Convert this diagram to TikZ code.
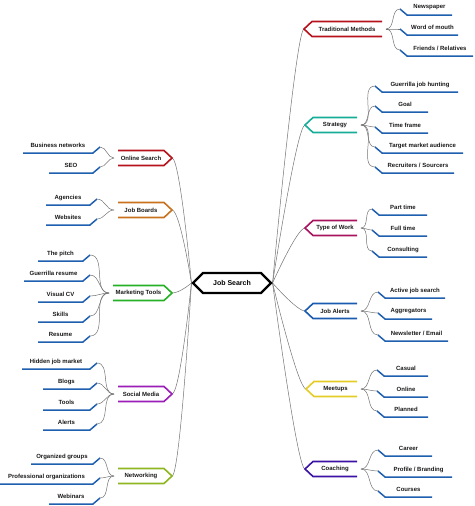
\documentclass[tikz,border=0pt]{standalone}
\usepackage{fontspec}
\setmainfont{Liberation Sans}
\usetikzlibrary{shapes.symbols,calc,backgrounds}
\definecolor{leafblue}{HTML}{1F5FAF}
\definecolor{cRed}{HTML}{B5121B}
\definecolor{cTeal}{HTML}{17AE99}
\definecolor{cCrim}{HTML}{A8135E}
\definecolor{cBlue}{HTML}{1A5BB0}
\definecolor{cYel}{HTML}{E5CB25}
\definecolor{cInd}{HTML}{3B12A5}
\definecolor{cOra}{HTML}{C8721E}
\definecolor{cGrn}{HTML}{25B025}
\definecolor{cPur}{HTML}{9A1DB8}
\definecolor{cLime}{HTML}{8DB620}
\tikzset{
  conn/.style={draw=black!55, line width=0.5pt},
  leafline/.style={draw=leafblue, line width=1.5pt},
  branchline/.style={line width=1.6pt},
  ltext/.style={font=\fontsize{6}{7}\selectfont\bfseries, text=black!90, inner sep=0pt},
  btext/.style={font=\fontsize{6}{7}\selectfont\bfseries, text=black!90, inner sep=0pt},
}
% right branch: name, xpoint, y, xend, colour, text
\newcommand\rbranch[6]{%
  \coordinate (#1-in) at (#2,#3);
  \coordinate (#1-out) at (#4+4,#3);
  \draw[branchline,draw=#5] (#4,#3-7.5) -- (#2+8,#3-7.5) -- (#1-in) -- (#2+8,#3+7.5) -- (#4,#3+7.5);
  \node[btext] (#1) at ({(#2+8+#4)/2},#3) {#6};
  \begin{scope}[on background layer]
    \draw[conn] (center.east) .. controls (center.east) and ($(#1-in)+(-8,0)$) .. (#1-in);
  \end{scope}}
% left branch: name, xpoint, y, xstart, colour, text
\newcommand\lbranch[6]{%
  \coordinate (#1-in) at (#2,#3);
  \coordinate (#1-out) at (#4-4,#3);
  \draw[branchline,draw=#5] (#4,#3-7.5) -- (#2-8,#3-7.5) -- (#1-in) -- (#2-8,#3+7.5) -- (#4,#3+7.5);
  \node[btext] (#1) at ({(#2-8+#4)/2},#3) {#6};
  \begin{scope}[on background layer]
    \draw[conn] (center.west) .. controls (center.west) and ($(#1-in)+(8,0)$) .. (#1-in);
  \end{scope}}
% right leaf: name, parent, xstart, yline, xend, text
\newcommand\rleaf[6]{%
  \coordinate (#1-in) at (#3,#4-6);
  \draw[leafline] (#1-in) -- (#3+7,#4) -- (#5,#4);
  \node[ltext] (#1) at ({(#3+7+#5)/2},#4-7.5) {#6};
  \draw[conn] (#2-out) to[out=0,in=180] (#1-in);}
% left leaf: name, parent, xstart, yline, xend, text
\newcommand\lleaf[6]{%
  \coordinate (#1-in) at (#5,#4-6);
  \draw[leafline] (#3,#4) -- (#5-7,#4) -- (#1-in);
  \node[ltext] (#1) at ({(#3+#5-7)/2},#4-7.5) {#6};
  \draw[conn] (#2-out) to[out=180,in=0] (#1-in);}
\begin{document}
\begin{tikzpicture}[x=1pt,y=-1pt]
\useasboundingbox (0,0) rectangle (474,506);
\node[signal, signal to=east and west, draw=black, fill=white, line width=2.2pt,
  minimum width=78pt, minimum height=20pt, inner sep=0pt,
  font=\fontsize{7}{8}\selectfont\bfseries] (center) at (232,283) {Job Search};

% right side
\rbranch{tm}{304}{29}{382}{cRed}{Traditional Methods}
\rleaf{np}{tm}{400}{15}{452}{Newspaper}
\rleaf{wm}{tm}{400}{35}{458}{Word of mouth}
\rleaf{fr}{tm}{400}{56}{473}{Friends / Relatives}

\rbranch{st}{305}{125}{357}{cTeal}{Strategy}
\rleaf{gj}{st}{375}{92}{458}{Guerrilla job hunting}
\rleaf{go}{st}{375}{112}{428}{Goal}
\rleaf{tf}{st}{375}{133}{428}{Time frame}
\rleaf{ta}{st}{375}{153}{463}{Target market audience}
\rleaf{rs}{st}{375}{173}{454}{Recruiters / Sourcers}

\rbranch{tw}{305}{228}{357}{cCrim}{Type of Work}
\rleaf{pt}{tw}{372}{215}{427}{Part time}
\rleaf{ft}{tw}{372}{236}{427}{Full time}
\rleaf{co}{tw}{372}{257}{427}{Consulting}

\rbranch{ja}{305}{311}{357}{cBlue}{Job Alerts}
\rleaf{aj}{ja}{378}{298}{445}{Active job search}
\rleaf{ag}{ja}{378}{319}{432}{Aggregators}
\rleaf{ne}{ja}{378}{341}{448}{Newsletter / Email}

\rbranch{me}{306}{389}{357}{cYel}{Meetups}
\rleaf{ca}{me}{377}{376}{428}{Casual}
\rleaf{on}{me}{377}{397}{428}{Online}
\rleaf{pl}{me}{377}{417}{428}{Planned}

\rbranch{ch}{305}{469}{357}{cInd}{Coaching}
\rleaf{cr}{ch}{378}{456}{432}{Career}
\rleaf{pb}{ch}{378}{477}{452}{Profile / Branding}
\rleaf{cs}{ch}{378}{497}{432}{Courses}

% left side
\lbranch{os}{172}{158}{118}{cRed}{Online Search}
\lleaf{bn}{os}{23}{153}{100}{Business networks}
\lleaf{seo}{os}{49}{173}{100}{SEO}

\lbranch{jb}{172}{210}{118}{cOra}{Job Boards}
\lleaf{agc}{jb}{46}{205}{97}{Agencies}
\lleaf{web}{jb}{46}{225}{97}{Websites}

\lbranch{mt}{172}{293}{113}{cGrn}{Marketing Tools}
\lleaf{tp}{mt}{38}{261}{90}{The pitch}
\lleaf{gr}{mt}{24}{281}{90}{Guerrilla resume}
\lleaf{vc}{mt}{38}{302}{90}{Visual CV}
\lleaf{sk}{mt}{38}{322}{90}{Skills}
\lleaf{re}{mt}{38}{342}{90}{Resume}

\lbranch{sm}{172}{394}{118}{cPur}{Social Media}
\lleaf{hj}{sm}{22}{369}{97}{Hidden job market}
\lleaf{bl}{sm}{43}{389}{97}{Blogs}
\lleaf{to}{sm}{43}{410}{97}{Tools}
\lleaf{al}{sm}{43}{430}{97}{Alerts}

\lbranch{nw}{172}{476}{118}{cLime}{Networking}
\lleaf{og}{nw}{31}{464}{100}{Organized groups}
\lleaf{po}{nw}{0}{484}{100}{Professional organizations}
\lleaf{wb}{nw}{49}{504}{100}{Webinars}
\end{tikzpicture}
\end{document}
